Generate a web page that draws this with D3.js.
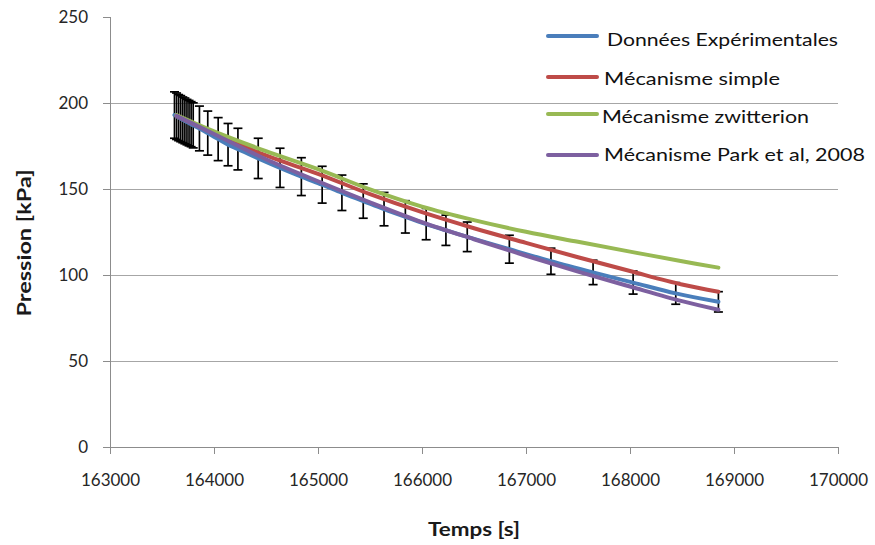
<!DOCTYPE html>
<html>
<head>
<meta charset="utf-8">
<script src="https://cdn.jsdelivr.net/npm/d3@7"></script>
<style>
  html, body { margin: 0; padding: 0; background: #fff; }
  svg { display: block; font-family: Lato, "Open Sans", sans-serif; }
</style>
</head>
<body>
<svg id="chart" width="875" height="545"></svg>
<script>
// ---- Data ----
const xTicks = [163000, 164000, 165000, 166000, 167000, 168000, 169000, 170000];
const yTicks = [0, 50, 100, 150, 200, 250];

// Experimental data (with error bars)
const expTimes = [163620, 163640, 163660, 163680, 163700, 163720, 163740, 163760, 163780, 163800,
  163860, 163940, 164040, 164135, 164230, 164425, 164635, 164840, 165040, 165230,
  165435, 165635, 165840, 166040, 166230, 166435, 166840, 167240, 167645, 168030, 168440, 168850];
const expValues = [193.0, 192.3, 191.5, 190.9, 190.2, 189.6, 188.9, 188.3, 187.7, 187.0,
  185.2, 182.5, 179.0, 175.8, 173.2, 167.8, 162.3, 157.2, 152.5, 147.8,
  143.0, 138.3, 133.8, 129.6, 126.0, 122.2, 115.0, 108.0, 101.5, 95.6, 89.3, 84.4];
const expErrors = [13.5, 13.5, 13.4, 13.4, 13.3, 13.3, 13.2, 13.2, 13.1, 13.1,
  13.0, 12.8, 12.5, 12.3, 12.1, 11.7, 11.4, 11.0, 10.7, 10.3,
  10.0, 9.7, 9.4, 9.1, 8.8, 8.6, 8.1, 7.6, 7.1, 6.7, 6.3, 5.9];

// Model curves
const modelTimes = [163640, 164000, 164500, 165000, 165500, 166000, 166500, 167000, 167500, 168000, 168500, 168850];
const simpleValues     = [192.5, 182.5, 169.5, 158.8, 147.0, 136.5, 127.2, 118.7, 110.3, 102.3, 94.5, 90.3];
const zwitterionValues = [193.0, 183.5, 172.0, 161.5, 149.8, 139.8, 131.9, 125.1, 119.3, 113.6, 108.0, 104.3];
const parkValues       = [192.5, 182.0, 167.3, 154.5, 142.3, 130.8, 120.8, 111.2, 102.0, 93.3, 84.8, 79.8];

const seriesNames = ["Données Expérimentales", "Mécanisme simple", "Mécanisme zwitterion", "Mécanisme Park et al, 2008"];
const seriesColors = ["#4A7EBB", "#BE4B48", "#98B954", "#7D60A0"];

// ---- Layout ----
const svg = d3.select("#chart");
const x = d3.scaleLinear().domain([163000, 170000]).range([110, 838]);
const y = d3.scaleLinear().domain([0, 250]).range([447, 17]);
const axisColor = "#8c8c8c";
const gridColor = "#a6a6a6";
const fontFam = "Lato, sans-serif";

// gridlines
svg.append("g").selectAll("line")
  .data(yTicks.filter(d => d > 0 && d < 250))
  .join("line")
  .attr("x1", x(163000)).attr("x2", x(170000))
  .attr("y1", d => y(d)).attr("y2", d => y(d))
  .attr("stroke", gridColor).attr("stroke-width", 1).attr("shape-rendering", "crispEdges");

// y axis
const yAxis = d3.axisLeft(y).tickValues(yTicks).tickSize(7).tickPadding(15).tickFormat(d3.format("d"));
const gy = svg.append("g").attr("transform", `translate(${x(163000)},0)`).call(yAxis);
gy.select(".domain").attr("stroke", axisColor).attr("shape-rendering", "crispEdges");
gy.selectAll(".tick line").attr("stroke", axisColor).attr("shape-rendering", "crispEdges");
gy.selectAll(".tick text").attr("font-family", fontFam).attr("font-size", 17).attr("fill", "#262626");

// x axis
const xAxis = d3.axisBottom(x).tickValues(xTicks).tickSize(7).tickPadding(20).tickFormat(d3.format("d"));
const gx = svg.append("g").attr("transform", `translate(0,${y(0)})`).call(xAxis);
gx.select(".domain").attr("stroke", axisColor).attr("shape-rendering", "crispEdges");
gx.selectAll(".tick line").attr("stroke", axisColor).attr("shape-rendering", "crispEdges");
gx.selectAll(".tick text").attr("font-family", fontFam).attr("font-size", 17).attr("fill", "#262626");

// axis titles
svg.append("text").attr("x", 474).attr("y", 536).attr("text-anchor", "middle")
  .attr("font-family", fontFam).attr("font-weight", "bold").attr("font-size", 19).attr("fill", "#1a1a1a")
  .attr("textLength", 92).attr("lengthAdjust", "spacingAndGlyphs")
  .text("Temps [s]");
svg.append("text").attr("transform", "translate(31,243) rotate(-90)").attr("text-anchor", "middle")
  .attr("font-family", fontFam).attr("font-weight", "bold").attr("font-size", 19).attr("fill", "#1a1a1a")
  .attr("textLength", 147).attr("lengthAdjust", "spacingAndGlyphs")
  .text("Pression [kPa]");

// error bars
const expData = expTimes.map((t, i) => ({ t, v: expValues[i], e: expErrors[i] }));
const eb = svg.append("g").attr("stroke", "#000").attr("stroke-width", 1.7);
eb.selectAll("line.v").data(expData).join("line").attr("class", "v")
  .attr("x1", d => x(d.t)).attr("x2", d => x(d.t))
  .attr("y1", d => y(d.v + d.e)).attr("y2", d => y(d.v - d.e));
eb.selectAll("line.t").data(expData).join("line").attr("class", "t")
  .attr("x1", d => x(d.t) - 4.5).attr("x2", d => x(d.t) + 4.5)
  .attr("y1", d => y(d.v + d.e)).attr("y2", d => y(d.v + d.e));
eb.selectAll("line.b").data(expData).join("line").attr("class", "b")
  .attr("x1", d => x(d.t) - 4.5).attr("x2", d => x(d.t) + 4.5)
  .attr("y1", d => y(d.v - d.e)).attr("y2", d => y(d.v - d.e));

// lines
const line = d3.line().x(d => x(d[0])).y(d => y(d[1])).curve(d3.curveCatmullRom.alpha(0.5));
const seriesData = [
  expTimes.map((t, i) => [t, expValues[i]]),
  modelTimes.map((t, i) => [t, simpleValues[i]]),
  modelTimes.map((t, i) => [t, zwitterionValues[i]]),
  modelTimes.map((t, i) => [t, parkValues[i]])
];
seriesData.forEach((s, i) => {
  svg.append("path").datum(s).attr("d", line)
    .attr("fill", "none").attr("stroke", seriesColors[i]).attr("stroke-width", 4)
    .attr("stroke-linecap", "round").attr("stroke-linejoin", "round");
});

// legend
const legendY = [36, 77, 114, 155];
const legendTextX = [607, 604, 602, 604];
const legendTextY = [46, 85, 123, 161];
const legendTextW = [231, 176, 207, 261];
const lg = svg.append("g");
seriesNames.forEach((name, i) => {
  lg.append("line").attr("x1", 548).attr("x2", 597).attr("y1", legendY[i]).attr("y2", legendY[i])
    .attr("stroke", seriesColors[i]).attr("stroke-width", 4).attr("stroke-linecap", "round");
  lg.append("text").attr("x", legendTextX[i]).attr("y", legendTextY[i])
    .attr("font-family", fontFam).attr("font-size", 17.5).attr("fill", "#111")
    .attr("textLength", legendTextW[i]).attr("lengthAdjust", "spacingAndGlyphs")
    .text(name);
});
</script>
</body>
</html>
